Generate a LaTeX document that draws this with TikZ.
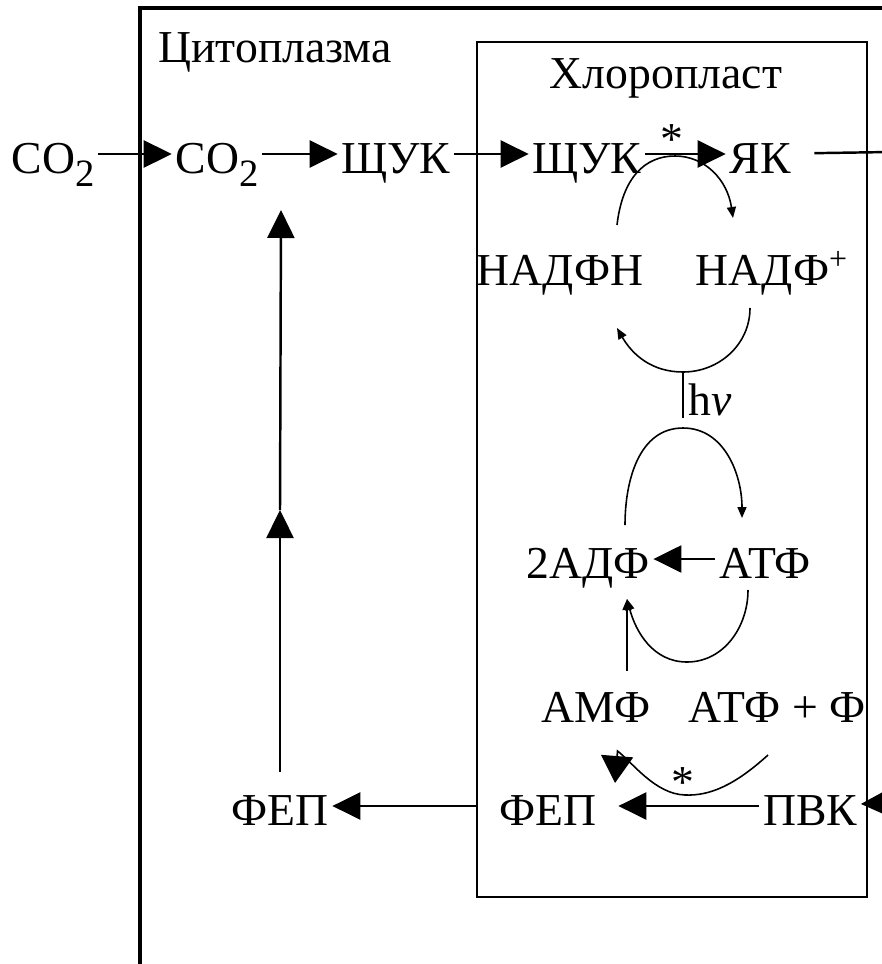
\documentclass[tikz,border=0pt]{standalone}
\usepackage{fontspec}
\setmainfont{Liberation Serif}
\usetikzlibrary{arrows.meta}

\newcommand{\lowtwo}{\raisebox{-0.26cm}{\fontsize{22}{24}\selectfont 2}}

\begin{document}
\begin{tikzpicture}[
  x=1cm, y=1cm,
  mol/.style={font=\fontsize{26}{30}\selectfont, inner xsep=2pt, inner ysep=0pt, text height=0.76cm, text depth=0pt},
  lbl/.style={font=\fontsize{26}{30}\selectfont, inner sep=0pt},
  membrane/.style={draw, line width=1.5pt},
  link/.style={draw, line width=1.4pt},
  bigarr/.style={draw, line width=1.4pt, -{Triangle[length=5.6mm, width=5.4mm]}},
  thinarr/.style={draw, line width=0.9pt, -{Triangle[length=2.2mm, width=1.8mm]}}
]

  \useasboundingbox (0,0) rectangle (17.64,-19.28);
  \clip (0,0) rectangle (17.64,-19.28);

  % ==================== CYTOPLASM (runs off the page) ====================
  \draw[membrane, line width=2pt] (2.8,-19.4) rectangle (18.5,-0.16);
  \node[lbl, anchor=base west] (cyto) at (3.16,-1.24) {Цитоплазма};

  % ==================== CHLOROPLAST ====================
  \node[membrane, minimum width=7.8cm, minimum height=17.1cm, inner sep=0pt] (chl) at (13.44,-9.39) {};
  \node[lbl, anchor=base] (chltitle) at (13.32,-1.76) {Хлоропласт};

  % Top row: CO2 uptake
  \node[mol] (co2out) at (1.06,-3.08) {CO\lowtwo};
  \node[mol] (co2in) at (4.34,-3.08) {CO\lowtwo};
  \node[mol] (oaa1) at (7.92,-3.08) {ЩУК};
  \node[mol] (oaa2) at (11.74,-3.08) {ЩУК};
  \node[mol] (mal) at (15.2,-3.08) {ЯК};
  \coordinate (malout) at (17.8,-3.04);

  \draw[bigarr] (co2out) -- (co2in);
  \draw[bigarr] (co2in) -- (oaa1);
  \draw[bigarr] (oaa1) -- (oaa2);
  \draw[bigarr] (oaa2) -- (mal);
  \node[lbl, anchor=base] (star1) at (13.44,-3.08) {*};
  \draw[link, shorten <=0.4cm] (mal) -- (malout);

  % NADPH / NADP+ cycle
  \node[mol] (nadph) at (11.2,-5.32) {НАДФН};
  \node[mol] (nadp) at (15.44,-5.32) {НАДФ\textsuperscript{+}};

  \coordinate (redA) at (12.34,-4.5);
  \coordinate (redB) at (14.66,-4.36);
  \draw[thinarr] (redA) .. controls (12.45,-3.55) and (12.9,-3.12) .. (13.5,-3.12) .. controls (14.1,-3.12) and (14.55,-3.6) .. (redB);

  \coordinate (oxA) at (15.0,-6.16);
  \coordinate (hvtop) at (13.66,-7.44);
  \coordinate (oxB) at (12.34,-6.56);
  \draw[thinarr] (oxA) to[out=-90, in=0] (hvtop) to[out=180, in=-60] (oxB);

  % light
  \coordinate (hvbot) at (13.66,-8.36);
  \draw[link] (hvtop) -- (hvbot);
  \node[lbl, anchor=base west] (light) at (13.76,-8.3) {h\textit{ν}};

  % ATP / ADP cycle
  \coordinate (phA) at (12.5,-10.5);
  \coordinate (phtop) at (13.66,-8.56);
  \coordinate (phB) at (14.84,-10.36);
  \draw[thinarr] (phA) to[out=90, in=180] (phtop) to[out=0, in=90] (phB);

  \node[mol] (adp) at (11.76,-11.18) {2АДФ};
  \node[mol] (atp) at (15.3,-11.18) {АТФ};
  \draw[bigarr] (atp) -- (adp);

  \coordinate (adpin) at (12.54,-11.98);
  \coordinate (hydA) at (14.96,-11.8);
  \coordinate (hydbot) at (13.74,-13.24);
  \draw[thinarr] (hydA) to[out=-90, in=0] (hydbot) to[out=180, in=-75] (adpin);

  \node[mol] (amp) at (11.92,-14.06) {АМФ};
  \node[mol] (atpp) at (15.54,-14.06) {АТФ + Ф};
  \draw[thinarr, shorten <=0.25cm] (amp.north -| adpin) -- (adpin);

  % Bottom row: PEP regeneration
  \node[mol] (pep1) at (5.6,-16.12) {ФЕП};
  \node[mol] (pep2) at (10.96,-16.12) {ФЕП};
  \node[mol] (pyr) at (16.2,-16.12) {ПВК};
  \coordinate (pyrin) at (18.2,-16.04);

  \draw[bigarr] (pyrin) -- (pyr);
  \draw[bigarr, shorten >=0.36cm] (pyr) -- (pep2);
  \draw[bigarr] (chl.west |- pep2) -- (pep1);

  \coordinate (ppA) at (15.36,-15.1);
  \coordinate (ppB) at (12.3,-15.66);
  \draw[line width=0.9pt, -{Triangle[length=5.4mm, width=6.4mm]}] (ppA) .. controls (14.7,-15.7) and (14.2,-15.92) .. (13.7,-15.9) .. controls (13.1,-15.88) and (12.65,-15.25) .. (12.35,-15.02) -- (ppB);
  \node[lbl, anchor=base] (star2) at (13.66,-15.94) {*};

  % back to the cytoplasm
  \coordinate (vmid) at (5.6,-10.2);
  \coordinate (vtop) at (5.62,-4.2);
  \draw[bigarr, shorten <=0.3cm] (pep1) -- (vmid);
  \draw[bigarr] (vmid) -- (vtop);

\end{tikzpicture}
\end{document}
